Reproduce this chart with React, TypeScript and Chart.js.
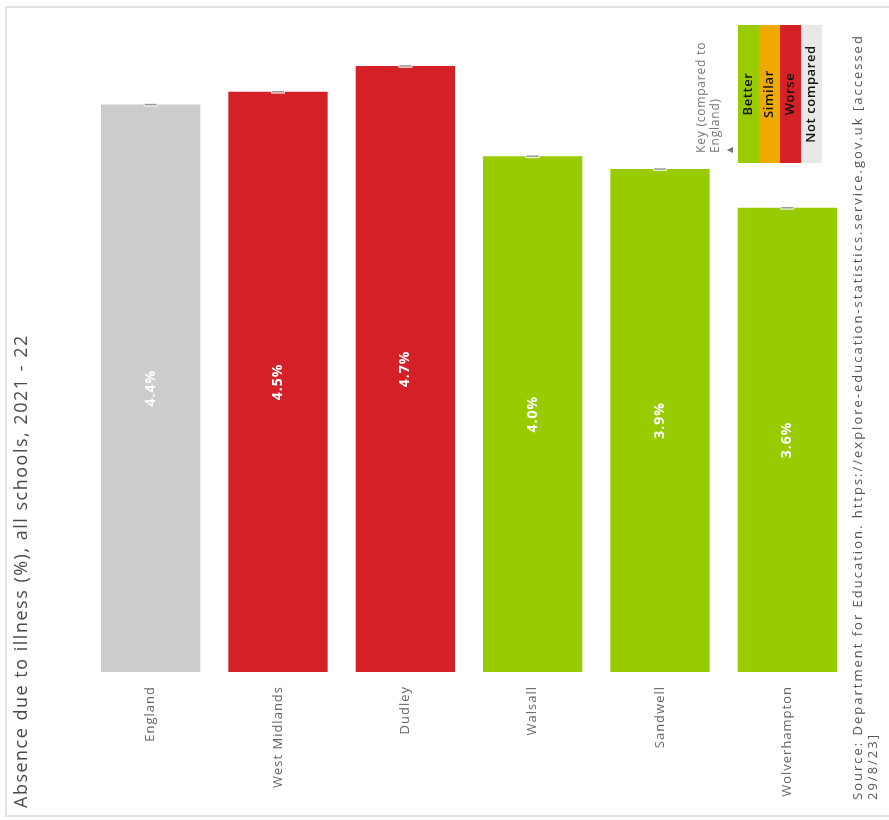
import React, { useEffect, useRef } from "react";
import { Chart, registerables } from "chart.js";

Chart.register(...registerables);

// Absence due to illness (%), all schools, 2021-22
const areas = ["England", "West Midlands", "Dudley", "Walsall", "Sandwell", "Wolverhampton"];
const absenceRates = [4.4, 4.5, 4.7, 4.0, 3.9, 3.6];
const comparison = ["Not compared", "Worse", "Worse", "Better", "Better", "Better"];

const keyLabels = ["Better", "Similar", "Worse", "Not compared"];
const keyColours = ["#99cc00", "#eeaa00", "#d42027", "#e8e8e8"];

const titleText = "Absence due to illness (%), all schools, 2021 - 22";
const sourceLines = [
  "Source: Department for Education. https://explore-education-statistics.service.gov.uk [accessed",
  "29/8/23]",
];
const keyTitleLines = ["Key (compared to", "England)", "\u25B2"];

const barColourFor = (c: string) =>
  c === "Not compared" ? "#cccccc" : keyColours[keyLabels.indexOf(c)];

const FONT = "'Open Sans', 'DejaVu Sans', sans-serif";

// draw text rotated -90deg (reads bottom to top)
function upText(
  ctx: CanvasRenderingContext2D,
  text: string,
  x: number,
  y: number,
  align: CanvasTextAlign,
  font: string,
  colour: string,
  spacing = 0
) {
  ctx.save();
  ctx.translate(x, y);
  ctx.rotate(-Math.PI / 2);
  ctx.font = font;
  (ctx as any).letterSpacing = spacing + "px";
  ctx.fillStyle = colour;
  ctx.textAlign = align;
  ctx.textBaseline = "middle";
  ctx.fillText(text, 0, 0);
  ctx.restore();
}

const decorations = {
  id: "decorations",
  beforeDraw(chart: any) {
    const ctx: CanvasRenderingContext2D = chart.ctx;
    ctx.save();
    ctx.fillStyle = "#ffffff";
    ctx.fillRect(0, 0, chart.width, chart.height);
    ctx.strokeStyle = "#e2e2e2";
    ctx.lineWidth = 2;
    ctx.strokeRect(6, 7, chart.width + 10, 809);
    ctx.restore();
    // slightly wider tracking for axis labels
    (ctx as any).letterSpacing = "1px";
  },
  afterDraw(chart: any) {
    (chart.ctx as any).letterSpacing = "0px";
  },
  afterDatasetsDraw(chart: any) {
    const ctx: CanvasRenderingContext2D = chart.ctx;
    const meta = chart.getDatasetMeta(0);
    const yScale = chart.scales.y;
    const base = yScale.getPixelForValue(0);

    // value labels and small interval marks
    meta.data.forEach((bar: any, i: number) => {
      const v = absenceRates[i];
      const top = yScale.getPixelForValue(v);
      upText(ctx, v.toFixed(1) + "%", bar.x, (top + base) / 2, "center", `bold 14px ${FONT}`, "#ffffff", 1);
      ctx.save();
      ctx.strokeStyle = "rgba(255,255,255,0.8)";
      ctx.lineWidth = 4;
      ctx.beginPath();
      ctx.moveTo(bar.x - 7, top);
      ctx.lineTo(bar.x + 7, top);
      ctx.stroke();
      ctx.strokeStyle = "#9a9a9a";
      ctx.lineWidth = 1.5;
      ctx.beginPath();
      ctx.moveTo(bar.x - 6, top);
      ctx.lineTo(bar.x + 6, top);
      ctx.stroke();
      ctx.restore();
    });

    // title
    upText(ctx, titleText, 22, 808, "left", `18px ${FONT}`, "#4a4a4a", 1.5);

    // source
    sourceLines.forEach((line, i) => {
      upText(ctx, line, 858 + i * 15, 800, "left", `13px ${FONT}`, "#555555", 2);
    });

    // key
    const kx = 738, ky = 25, kw = 21, kh = 138;
    keyLabels.forEach((lab, i) => {
      ctx.fillStyle = keyColours[i];
      ctx.fillRect(kx + i * kw, ky, kw, kh);
      upText(ctx, lab, kx + i * kw + kw / 2, ky + kh / 2, "center", `600 13px ${FONT}`, "#111111", 0.6);
    });
    keyTitleLines.forEach((line, i) => {
      upText(ctx, line, 702 + i * 14, 153, "left", `${i === 2 ? 8 : 12}px ${FONT}`, "#777777", i === 2 ? 0 : 0.8);
    });
  },
};

export default function App() {
  const ref = useRef<HTMLCanvasElement>(null);

  useEffect(() => {
    if (!ref.current) return;
    const chart = new Chart(ref.current, {
      type: "bar",
      data: {
        labels: areas,
        datasets: [
          {
            data: absenceRates,
            backgroundColor: comparison.map(barColourFor),
            borderWidth: 0,
            categoryPercentage: 1,
            barPercentage: 0.78,
          },
        ],
      },
      options: {
        animation: false,
        responsive: false,
        layout: { padding: { left: 87, right: 38, top: 53, bottom: 0 } },
        plugins: {
          legend: { display: false },
          tooltip: { enabled: false },
          title: { display: false },
        },
        scales: {
          y: { display: false, min: 0, max: 4.8 },
          x: {
            grid: { display: false },
            border: { display: false },
            ticks: {
              minRotation: 90,
              maxRotation: 90,
              padding: 6,
              color: "#666666",
              font: { family: FONT, size: 13 },
            },
            afterFit: (axis: any) => {
              axis.height = 148;
            },
          },
        },
      },
      plugins: [decorations],
    });
    return () => chart.destroy();
  }, []);

  return (
    <div style={{ position: "absolute", left: 0, top: 0, width: 889, height: 820 }}>
      <canvas ref={ref} width={889} height={820} style={{ display: "block" }} />
    </div>
  );
}
